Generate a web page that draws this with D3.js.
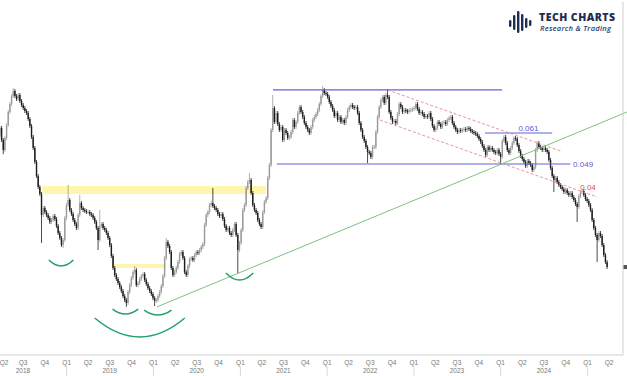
<!DOCTYPE html>
<html>
<head>
<meta charset="utf-8">
<script src="https://cdnjs.cloudflare.com/ajax/libs/d3/7.8.5/d3.min.js"></script>
<style>
  body { margin: 0; background: #fff; }
  svg { display: block; }
</style>
</head>
<body>
<div id="chart"></div>
<script>
// weekly closes, ETH/BTC style ratio, starting week of 2018-03-26
var firstWeek = '2018-03-26';
var firstOpen = 0.0600;
var closes = [
  .06320,.05806,.05410,.05888,.06455,.07076,.07487,.07923,.08208,.07923,
  .07757,.07979,.07648,.07435,.07279,.07126,.07026,.06735,.06410,.05930,
  .05487,.04970,.04502,.04165,.03964,.03417,.03590,.03490,.03417,.03345,
  .03252,.03298,.03393,.03322,.03162,.03009,.02905,.02764,.02864,.03345,
  .03667,.03800,.03540,.03441,.03298,.03206,.03117,.03417,.03720,.03590,
  .03540,.03515,.03490,.03490,.03441,.03417,.03345,.03252,.03117,.02864,
  .03162,.03206,.03117,.03074,.03009,.02905,.02764,.02558,.02350,.02236,
  .02174,.02113,.02054,.01997,.01927,.01874,.01835,.01983,.02083,.02190,
  .02284,.02317,.02083,.02113,.02174,.02221,.02252,.02158,.02098,.02040,
  .01997,.01955,.01900,.01861,.01874,.01927,.01983,.02069,.02221,.02522,
  .02824,.02745,.02631,.02350,.02236,.02284,.02350,.02451,.02594,.02631,
  .02522,.02284,.02236,.02383,.02504,.02522,.02486,.02576,.02631,.02612,
  .02668,.02725,.02784,.03184,.03417,.03490,.03667,.03720,.03641,.03590,
  .03540,.03441,.03393,.03441,.03322,.03162,.03074,.03117,.03009,.02967,
  .03074,.03206,.02967,.02668,.02804,.03074,.03540,.03667,.04135,.04315,
  .04376,.03992,.03667,.03540,.03466,.03298,.03206,.03139,.03490,.03747,
  .03853,.04439,.04865,.06231,.07279,.06593,.07026,.06501,.06231,.06365,
  .05806,.06231,.06100,.05888,.05930,.06143,.06687,.06365,.06593,.07026,
  .07331,.07076,.06831,.06547,.06365,.06231,.06100,.06365,.06687,.06831,
  .06977,.07177,.07487,.07923,.08266,.08093,.08036,.07867,.07594,.07383,
  .07177,.06879,.07026,.06687,.06831,.06593,.06687,.06547,.06831,.07177,
  .07331,.07435,.07331,.07279,.07331,.07026,.06547,.06231,.05930,.05765,
  .05525,.05334,.05296,.05149,.05525,.05525,.06143,.06831,.07331,.07702,
  .07867,.07540,.07979,.07867,.07076,.06783,.06593,.06640,.06547,.06977,
  .07487,.07331,.07076,.07177,.07126,.07076,.07177,.07177,.07228,.07279,
  .07487,.07228,.07026,.07076,.06977,.06831,.06879,.06831,.07026,.06735,
  .06410,.06231,.06320,.06593,.06501,.06365,.06547,.06593,.06501,.06687,
  .06783,.06831,.06547,.06365,.06231,.06143,.06231,.06187,.06231,.06275,
  .06231,.06320,.06275,.06187,.06143,.06100,.06057,.05972,.05846,.05724,
  .05565,.05410,.05222,.05525,.05410,.05487,.05410,.05334,.05296,.05410,
  .05259,.05149,.05765,.05930,.05684,.05410,.05296,.05487,.05684,.05888,
  .05846,.05604,.05372,.05185,.05077,.04970,.04831,.05006,.04935,.04865,
  .04697,.04797,.05410,.05684,.05525,.05487,.05410,.05487,.05410,.05334,
  .05041,.04763,.04502,.04376,.04439,.04315,.04224,.04165,.04106,.04021,
  .04078,.03992,.03936,.03992,.03881,.03800,.03694,.03616,.03908,.04021,
  .04049,.03936,.03826,.03773,.03667,.03540,.03298,.03117,.02967,.02864,
  .03009,.02946,.02764,.02576,.02451,.02366
];
// long wicks that stand out [week index, price]
var wickLows = [[2,.0525],[25,.02804],[38,.02706],[59,.02668],[76,.01784],[93,.01796],
  [143,.02268],[221,.04935],[301,.04900],[333,.04021],[347,.03252],[359,.02451]];
var wickHighs = [[8,.08384],[41,.04224],[48,.03936],[60,.03540],[81,.02383],[100,.02905],
  [128,.04135],[150,.04598],[164,.07979],[194,.08504],[233,.08325]];

// annotations
var hLines = [ // price, from, to
  [0.0827, '2021-05-18', '2024-01-07'],
  [0.049, '2021-06-03', '2024-10-20'],
  [0.061, '2023-10-27', '2024-08-05']
];
var levelLabels = [ // text, date, price, colour
  ['0.061', '2024-04-27', 0.061, '#5b5bd9'],
  ['0.049', '2024-11-01', 0.049, '#5b5bd9'],
  ['0.04', '2024-12-01', 0.04, '#e05050']
];
var channel = [
  [['2022-09-13', 0.08266], ['2024-09-08', 0.05372]],
  [['2022-08-11', 0.06687], ['2025-02-10', 0.03881]]
];
var trend = [['2020-01-15', 0.01784], ['2025-06-16', 0.07076]];
var zones = [ // from, to, top, bottom
  ['2018-09-20', '2021-04-18', 0.04194, 0.03964],
  ['2019-07-14', '2020-02-22', 0.02417, 0.02350]
];
var arcs = [ // from, to, end price, bottom price
  ['2018-10-18', '2019-01-29', 0.02486, 0.02383],
  ['2019-07-13', '2019-10-29', 0.01758, 0.01698],
  ['2019-11-23', '2020-03-17', 0.01746, 0.01686],
  ['2019-04-29', '2020-05-12', 0.01650, 0.01443],
  ['2020-11-01', '2021-02-24', 0.02268, 0.02158]
];
var quarterStart = '2018-04-01';
var quarterEnd = '2025-04-01';

var width = 627, height = 376;
var axisY = 355, rightX = 623;
var parse = d3.utcParse('%Y-%m-%d');

var x = d3.scaleUtc()
  .domain([parse('2019-01-01'), parse('2025-04-01')])
  .range([66.7, 609]);
var y = d3.scaleLog()
  .domain([0.049, 0.061])
  .range([164, 133]);

var start = parse(firstWeek);
var data = closes.map(function(c, i) {
  return { date: d3.utcDay.offset(start, 7 * i), open: i ? closes[i - 1] : firstOpen, close: c };
});
wickLows.forEach(function(w) { data[w[0]].low = w[1]; });
wickHighs.forEach(function(w) { data[w[0]].high = w[1]; });

var svg = d3.select('#chart').append('svg')
  .attr('width', width)
  .attr('height', height);

var plot = svg.append('g');

// yellow zones
plot.selectAll('rect.zone')
  .data(zones)
  .enter().append('rect')
    .attr('class', 'zone')
    .attr('x', function(d) { return x(parse(d[0])); })
    .attr('width', function(d) { return x(parse(d[1])) - x(parse(d[0])); })
    .attr('y', function(d) { return y(d[2]); })
    .attr('height', function(d) { return y(d[3]) - y(d[2]); })
    .attr('fill', '#fff4a0')
    .attr('opacity', 0.85);

// candles
var pad = 2;
var candle = plot.selectAll('g.candle')
  .data(data)
  .enter().append('g')
    .attr('class', 'candle')
    .attr('fill', function(d) { return d.close >= d.open ? '#9a9a9a' : '#1c1c1c'; })
    .attr('stroke', function(d) { return d.close >= d.open ? '#9a9a9a' : '#1c1c1c'; });

candle.append('line')
  .attr('x1', function(d) { return x(d.date); })
  .attr('x2', function(d) { return x(d.date); })
  .attr('y1', function(d) { return d.high ? y(d.high) : y(Math.max(d.open, d.close)) - pad; })
  .attr('y2', function(d) { return d.low ? y(d.low) : y(Math.min(d.open, d.close)) + pad; })
  .attr('stroke-width', 0.8);

candle.append('rect')
  .attr('x', function(d) { return x(d.date) - 0.7; })
  .attr('width', 1.4)
  .attr('y', function(d) { return y(Math.max(d.open, d.close)); })
  .attr('height', function(d) { return Math.max(1, y(Math.min(d.open, d.close)) - y(Math.max(d.open, d.close))); })
  .attr('stroke', 'none');

// horizontal levels
plot.selectAll('line.level')
  .data(hLines)
  .enter().append('line')
    .attr('x1', function(d) { return x(parse(d[1])); })
    .attr('x2', function(d) { return x(parse(d[2])); })
    .attr('y1', function(d) { return y(d[0]); })
    .attr('y2', function(d) { return y(d[0]); })
    .attr('stroke', '#6262e0')
    .attr('stroke-width', 1.2);

// falling channel
plot.selectAll('line.channel')
  .data(channel)
  .enter().append('line')
    .attr('x1', function(d) { return x(parse(d[0][0])); })
    .attr('y1', function(d) { return y(d[0][1]); })
    .attr('x2', function(d) { return x(parse(d[1][0])); })
    .attr('y2', function(d) { return y(d[1][1]); })
    .attr('stroke', '#e58a8a')
    .attr('stroke-width', 0.9)
    .attr('stroke-dasharray', '3,2');

// rising trendline
plot.append('line')
  .attr('x1', x(parse(trend[0][0])))
  .attr('y1', y(trend[0][1]))
  .attr('x2', x(parse(trend[1][0])))
  .attr('y2', y(trend[1][1]))
  .attr('stroke', '#7fc27f')
  .attr('stroke-width', 1);

// smile arcs under the lows
plot.selectAll('path.arc')
  .data(arcs)
  .enter().append('path')
    .attr('d', function(d) {
      var x0 = x(parse(d[0])), x1 = x(parse(d[1]));
      var ye = y(d[2]), yb = y(d[3]);
      return 'M' + x0 + ',' + ye + 'Q' + (x0 + x1) / 2 + ',' + (2 * yb - ye) + ' ' + x1 + ',' + ye;
    })
    .attr('fill', 'none')
    .attr('stroke', '#23a06a')
    .attr('stroke-width', 1.5);

// level labels
svg.selectAll('text.lvl')
  .data(levelLabels)
  .enter().append('text')
    .attr('x', function(d) { return x(parse(d[1])); })
    .attr('y', function(d, i) { return y(d[2]) + (i === 0 ? -2.5 : i === 1 ? 3 : -3); })
    .attr('text-anchor', function(d, i) { return i === 0 ? 'middle' : 'start'; })
    .attr('font-family', 'Liberation Sans, Arial, sans-serif')
    .attr('font-size', 8)
    .attr('fill', function(d) { return d[3]; })
    .text(function(d) { return d[0]; });

// right axis line + last price marker
svg.append('line')
  .attr('x1', rightX).attr('x2', rightX)
  .attr('y1', 2).attr('y2', axisY)
  .attr('stroke', '#cfcfcf');
svg.append('rect')
  .attr('x', rightX + 0.5)
  .attr('y', y(closes[closes.length - 1]) - 2)
  .attr('width', 4).attr('height', 4)
  .attr('fill', '#555');

// bottom axis
svg.append('line')
  .attr('x1', 0).attr('x2', rightX)
  .attr('y1', axisY).attr('y2', axisY)
  .attr('stroke', '#cfcfcf');

var quarters = d3.utcMonth.every(3).range(parse(quarterStart), d3.utcDay.offset(parse(quarterEnd), 1));
var qg = svg.selectAll('g.q')
  .data(quarters)
  .enter().append('g')
    .attr('class', 'q')
    .attr('transform', function(d) { return 'translate(' + Math.max(x(d), 4) + ',0)'; });

qg.append('text')
  .attr('y', 364.5)
  .attr('text-anchor', 'middle')
  .attr('font-family', 'Liberation Sans, Arial, sans-serif')
  .attr('font-size', 6.5)
  .attr('fill', '#777')
  .text(function(d) { return 'Q' + (Math.floor(d.getUTCMonth() / 3) + 1); });

qg.filter(function(d) { return d.getUTCMonth() === 6; })
  .append('text')
    .attr('y', 372.5)
    .attr('text-anchor', 'middle')
    .attr('font-family', 'Liberation Sans, Arial, sans-serif')
    .attr('font-size', 6.5)
    .attr('fill', '#777')
    .text(function(d) { return d.getUTCFullYear(); });

qg.filter(function(d) { return d.getUTCMonth() === 0; })
  .append('line')
    .attr('y1', 367).attr('y2', 376)
    .attr('stroke', '#d8d8d8');

// logo
var logo = svg.append('g').attr('fill', '#1f2d50');
var bars = [[509, 20, 27], [513, 15, 30], [517, 11, 33], [521, 14, 31], [525, 18, 28], [529, 20, 26]];
logo.selectAll('rect')
  .data(bars)
  .enter().append('rect')
    .attr('x', function(d) { return d[0]; })
    .attr('y', function(d) { return d[1]; })
    .attr('width', 2.4)
    .attr('height', function(d) { return d[2] - d[1]; })
    .attr('rx', 1.2);
logo.append('text')
  .attr('x', 539).attr('y', 21)
  .attr('font-family', 'Open Sans, sans-serif')
  .attr('font-weight', 800)
  .attr('font-size', 10.5)
  .attr('textLength', 76)
  .text('TECH CHARTS');
logo.append('text')
  .attr('x', 540).attr('y', 31)
  .attr('font-family', 'Open Sans, sans-serif')
  .attr('font-style', 'italic')
  .attr('font-weight', 600)
  .attr('font-size', 7.5)
  .attr('fill', '#2b3d6b')
  .attr('textLength', 71)
  .text('Research & Trading');
</script>
</body>
</html>
